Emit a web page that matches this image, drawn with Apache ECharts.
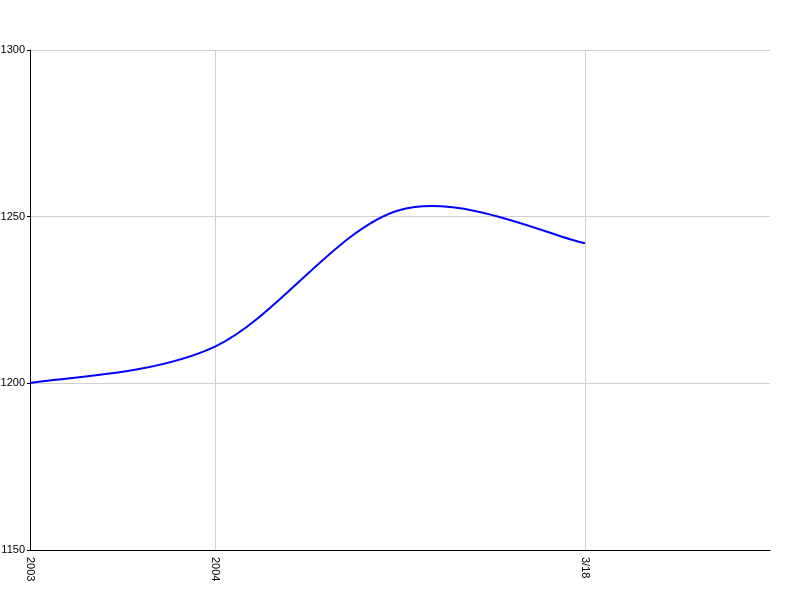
<!DOCTYPE html>
<html><head><meta charset="utf-8">
<script src="https://cdn.jsdelivr.net/npm/echarts@6/dist/echarts.min.js"></script>
<style>html,body{margin:0;padding:0;background:#fff}#c{width:800px;height:600px}</style>
</head><body><div id="c"></div>
<script>
const categories = ['2003', '2004', '', '3/18', ''];
const values = [1200, 1211, 1252, 1242];
const yTicks = [1150, 1200, 1250, 1300];

const TENSION = 0.5;
const chart = echarts.init(document.getElementById('c'), null, {renderer: 'canvas'});
const showCat = (i, v) => v !== '';
const segData = [];
for (let i = 0; i < values.length - 1; i++) segData.push([i, values[i]]);

function renderSeg(params, api) {
  const i = api.value(0);
  const n = values.length;
  const P = k => { k = Math.max(0, Math.min(n - 1, k)); return api.coord([k, values[k]]); };
  const p0 = P(i - 1), p1 = P(i), p2 = P(i + 1), p3 = P(i + 2);
  const f = TENSION / 3;
  return {
    type: 'bezierCurve',
    shape: {
      x1: p1[0], y1: p1[1], x2: p2[0], y2: p2[1],
      cpx1: p1[0] + (p2[0] - p0[0]) * f, cpy1: p1[1] + (p2[1] - p0[1]) * f,
      cpx2: p2[0] - (p3[0] - p1[0]) * f, cpy2: p2[1] - (p3[1] - p1[1]) * f
    },
    style: {stroke: '#0000ff', lineWidth: 2, fill: null}
  };
}

chart.setOption({
  animation: false,
  grid: {left: 30, right: 30, top: 50, bottom: 50, containLabel: false, outerBoundsMode: 'none'},
  xAxis: {
    type: 'category', data: categories, boundaryGap: false,
    axisLine: {lineStyle: {color: '#000', width: 1}},
    axisTick: {show: false},
    axisLabel: {rotate: -90, color: '#000', fontSize: 11, fontFamily: 'Liberation Sans, Arial', margin: 7, interval: showCat},
    splitLine: {show: true, interval: showCat, lineStyle: {color: '#d0d0d0', width: 1}}
  },
  yAxis: {
    type: 'value', min: yTicks[0], max: yTicks[yTicks.length - 1], interval: 50,
    axisLine: {show: true, lineStyle: {color: '#000', width: 1}},
    axisTick: {show: true, length: 3, lineStyle: {color: '#000'}},
    axisLabel: {color: '#000', fontSize: 11, fontFamily: 'Liberation Sans, Arial', margin: 5, formatter: v => String(v)},
    splitLine: {show: true, lineStyle: {color: '#d0d0d0', width: 1}}
  },
  series: [{
    type: 'custom', data: segData, renderItem: renderSeg, clip: false,
    encode: {x: 0, y: 1}
  }]
});
</script></body></html>
